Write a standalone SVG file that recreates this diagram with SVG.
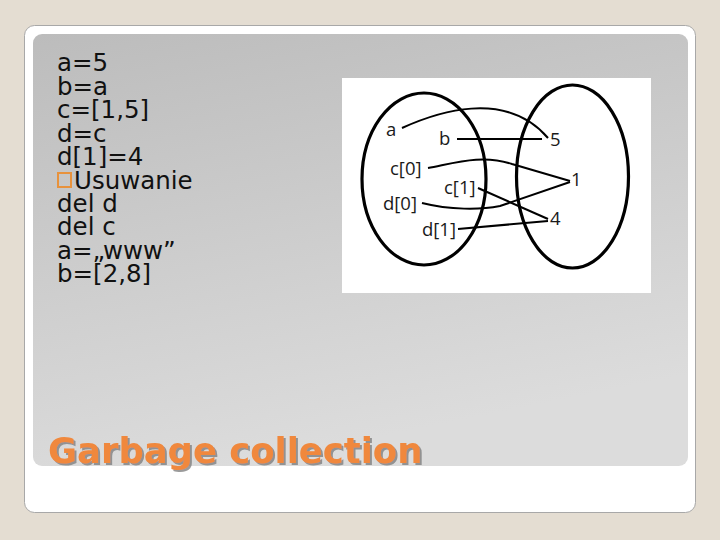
<svg xmlns="http://www.w3.org/2000/svg" width="720" height="540" viewBox="0 0 720 540">
<defs>
<linearGradient id="panelGrad" x1="0" y1="0" x2="0.3" y2="1">
<stop offset="0" stop-color="#bcbcbc"/>
<stop offset="1" stop-color="#dcdcdc"/>
</linearGradient>
<filter id="shadow" x="-5%" y="-20%" width="110%" height="150%">
<feDropShadow dx="2" dy="2" stdDeviation="0.6" flood-color="#7a7a7a" flood-opacity="0.75"/>
</filter>
<style>
.code{font-family:"DejaVu Sans",Verdana,sans-serif;font-size:24.5px;fill:#111}
.lbl{font-family:"Open Sans","Noto Sans",sans-serif;font-size:18.5px;fill:#1a1a1a}
.edge{fill:none;stroke:#000;stroke-width:2}
.ell{fill:none;stroke:#000;stroke-width:3.2}
.title{font-family:"DejaVu Sans",Verdana,sans-serif;font-weight:bold;font-size:35.4px;fill:#f0883c}
</style>
</defs>
<rect x="0" y="0" width="720" height="540" fill="#e4ddd2"/>
<rect x="24.5" y="25.5" width="671" height="487" rx="10" fill="#ffffff" stroke="#a8a8a8" stroke-width="1"/>
<rect x="33" y="34" width="655" height="432" rx="9" fill="url(#panelGrad)"/>

<g id="code">
<rect x="58" y="173" width="13" height="14" fill="none" stroke="#e8923c" stroke-width="2"/>
<text class="code"><tspan x="57" y="71">a=5</tspan><tspan x="57" y="95">b=a</tspan><tspan x="57" y="118">c=[1,5]</tspan><tspan x="57" y="142">d=c</tspan><tspan x="57" y="165">d[1]=4</tspan><tspan x="74" y="189">Usuwanie</tspan><tspan x="57" y="212">del d</tspan><tspan x="57" y="235">del c</tspan><tspan x="57" y="259">a=„www”</tspan><tspan x="57" y="282">b=[2,8]</tspan></text>
</g>

<g id="title">
<text class="title" x="48" y="463" filter="url(#shadow)">Garbage collection</text>
</g>

<rect x="342" y="78" width="309" height="215" fill="#ffffff"/>
<g id="sets">
<ellipse id="names" class="ell" cx="424" cy="179" rx="62" ry="86"/>
<ellipse id="values" class="ell" cx="572.5" cy="176.5" rx="56" ry="91.5"/>
</g>

<g id="connectors">
<path class="edge" d="M402,128 C435,113 505,88 548,138"/>
<path class="edge" d="M457,139 L542,139"/>
<path class="edge" d="M428,168 C455,163 482,154 512,164 L570,181"/>
<path class="edge" d="M422,203 C450,210 480,210 500,206 L570,182"/>
<path class="edge" d="M478,188 L548,219"/>
<path class="edge" d="M458,229 L548,221"/>
</g>

<g id="n-a"><text class="lbl" x="386" y="136">a</text></g>
<g id="n-b"><text class="lbl" x="439" y="145">b</text></g>
<g id="n-5"><text class="lbl" x="550" y="146">5</text></g>
<g id="n-c0"><text class="lbl" x="390" y="175">c[0]</text></g>
<g id="n-1"><text class="lbl" x="571" y="186">1</text></g>
<g id="n-c1"><text class="lbl" x="444" y="194">c[1]</text></g>
<g id="n-d0"><text class="lbl" x="383" y="210">d[0]</text></g>
<g id="n-4"><text class="lbl" x="550" y="225">4</text></g>
<g id="n-d1"><text class="lbl" x="422" y="236">d[1]</text></g>
</svg>
